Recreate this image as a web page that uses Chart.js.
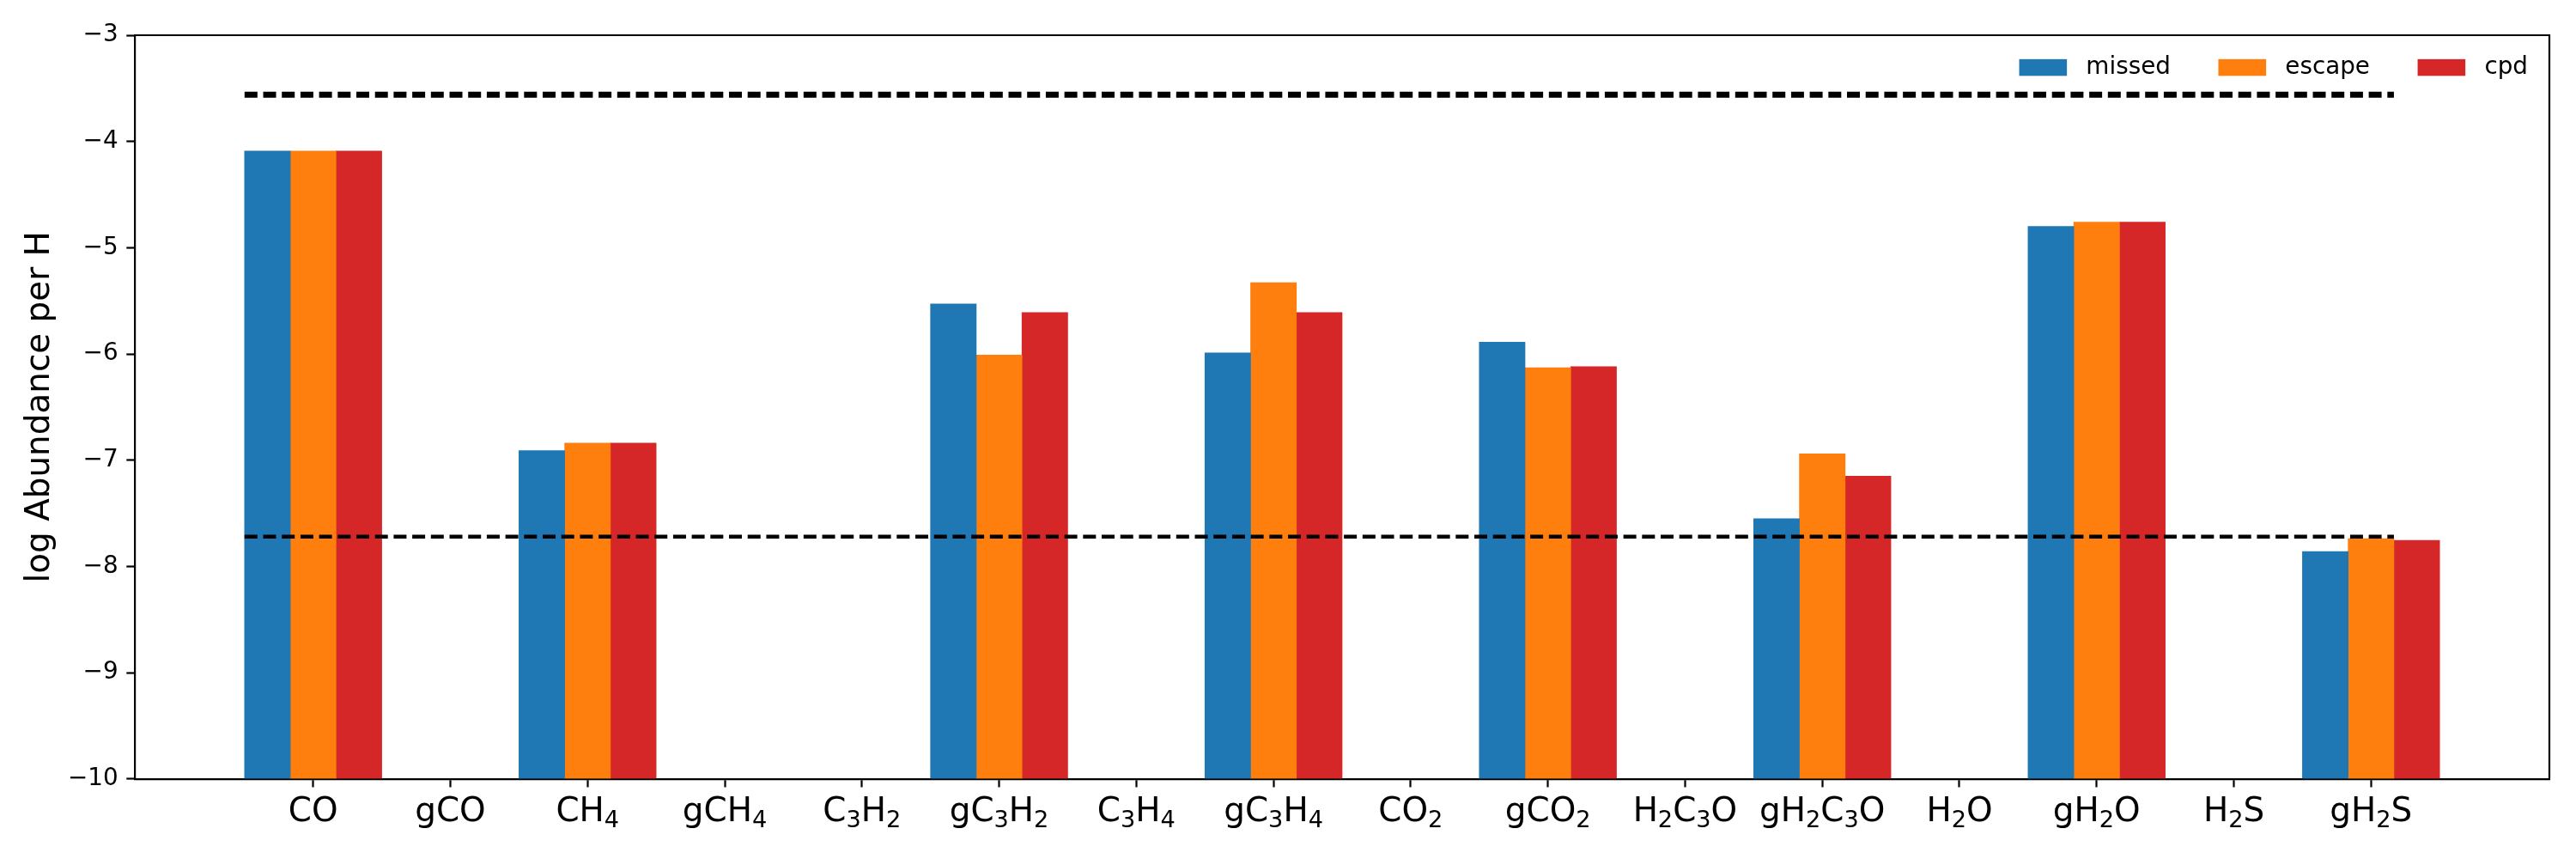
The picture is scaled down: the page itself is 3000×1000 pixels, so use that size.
<!DOCTYPE html>
<html>
<head>
<meta charset="utf-8">
<script src="https://cdn.jsdelivr.net/npm/chart.js"></script>
<style>
  body { margin: 0; background: #fff; }
  #wrap { width: 3000px; height: 1000px; }
</style>
</head>
<body>
<div id="wrap"><canvas id="chart" width="3000" height="1000"></canvas></div>
<script>
// species on the x axis (digits are drawn as subscripts)
var species = ['CO', 'gCO', 'CH4', 'gCH4', 'C3H2', 'gC3H2', 'C3H4', 'gC3H4',
               'CO2', 'gCO2', 'H2C3O', 'gH2C3O', 'H2O', 'gH2O', 'H2S', 'gH2S'];

// log abundance per H, null = nothing drawn
var missed = [-4.09, null, -6.91, null, null, -5.53, null, -5.99,
              null, -5.89, null, -7.55, null, -4.80, null, -7.86];
var escape = [-4.09, null, -6.84, null, null, -6.01, null, -5.33,
              null, -6.13, null, -6.94, null, -4.76, null, -7.74];
var cpd    = [-4.09, null, -6.84, null, null, -5.61, null, -5.61,
              null, -6.12, null, -7.15, null, -4.76, null, -7.755];

// dashed reference levels and the x range they cover
var refLevels = [-3.56, -7.72];
var refSpan = [-0.5, 15.1667];

var yTicks = [-10, -9, -8, -7, -6, -5, -4, -3];

function toPoints(vals) {
	return vals.map(function (v, i) { return { x: i, y: v }; });
}

function barSet(label, vals, color) {
	return {
		type: 'bar', label: label, data: toPoints(vals), backgroundColor: color,
		base: -10, barPercentage: 1.0, categoryPercentage: 1.0, borderWidth: 0, order: 1
	};
}

function refLine(level, width) {
	return {
		type: 'line', label: '', data: refSpan.map(function (x) { return { x: x, y: level }; }),
		borderColor: '#000', borderWidth: width, borderDash: [15, 6.7], pointRadius: 0,
		fill: false, order: 0, isRef: true
	};
}

var FONT = 'DejaVu Sans';

// frame, x labels with subscripts, legend inside the axes
var extras = {
	id: 'extras',
	afterDraw: function (chart) {
		var ctx = chart.ctx, a = chart.chartArea, xs = chart.scales.x;
		ctx.save();
		ctx.strokeStyle = '#000';
		ctx.lineWidth = 2.2;
		ctx.beginPath();
		ctx.moveTo(a.left, a.top); ctx.lineTo(a.right, a.top); ctx.lineTo(a.right, a.bottom);
		ctx.stroke();

		// tick labels
		var big = 38.9, small = 27.2, drop = 7;
		ctx.fillStyle = '#000';
		ctx.textBaseline = 'alphabetic';
		ctx.textAlign = 'left';
		species.forEach(function (name, i) {
			var parts = name.split('').map(function (c) {
				var sub = /[0-9]/.test(c);
				ctx.font = (sub ? small : big) + 'px "' + FONT + '"';
				return { c: c, sub: sub, w: ctx.measureText(c).width };
			});
			var total = parts.reduce(function (s, p) { return s + p.w; }, 0);
			var x = xs.getPixelForValue(i) - total / 2;
			var base = a.bottom + 49;
			parts.forEach(function (p) {
				ctx.font = (p.sub ? small : big) + 'px "' + FONT + '"';
				ctx.fillText(p.c, x, base + (p.sub ? drop : 0));
				x += p.w;
			});
		});

		// legend
		var em = 27.8;
		var items = chart.data.datasets.filter(function (d) { return !d.isRef; });
		ctx.font = em + 'px "' + FONT + '"';
		var widths = items.map(function (d) { return ctx.measureText(d.label).width; });
		var total = 0;
		items.forEach(function (d, i) { total += 2 * em + 0.8 * em + widths[i]; });
		total += 2 * em * (items.length - 1);
		var lx = a.right - 0.9 * em - total;
		var cy = a.top + 37.6;
		ctx.textBaseline = 'middle';
		items.forEach(function (d, i) {
			ctx.fillStyle = d.backgroundColor;
			ctx.fillRect(lx, cy - 0.35 * em, 2 * em, 0.7 * em);
			ctx.fillStyle = '#000';
			ctx.fillText(d.label, lx + 2.8 * em, cy);
			lx += 2.8 * em + widths[i] + 2 * em;
		});
		ctx.restore();
	}
};

var ctx = document.getElementById('chart');
var myChart = new Chart(ctx, {
	data: {
		datasets: [
			refLine(refLevels[0], 7),
			refLine(refLevels[1], 4.7),
			barSet('missed', missed, '#1f77b4'),
			barSet('escape', escape, '#ff7f0e'),
			barSet('cpd', cpd, '#d62728')
		]
	},
	options: {
		responsive: false,
		animation: false,
		devicePixelRatio: 1,
		layout: { padding: { top: 41, right: 31, bottom: 0, left: 0 } },
		plugins: { legend: { display: false }, tooltip: { enabled: false } },
		scales: {
			x: {
				type: 'linear', min: -1.3, max: 16.3, offset: false,
				afterBuildTicks: function (axis) {
					axis.ticks = species.map(function (s, i) { return { value: i }; });
				},
				afterFit: function (scale) { scale.height = 93.3; },
				ticks: { callback: function () { return ''; }, autoSkip: false, maxRotation: 0 },
				grid: { offset: false, drawOnChartArea: false, drawTicks: true, tickLength: 9.7, tickWidth: 2.2, tickColor: '#000' },
				border: { display: true, color: '#000', width: 2.2 }
			},
			y: {
				type: 'linear', min: -10, max: -3,
				afterBuildTicks: function (axis) {
					axis.ticks = yTicks.map(function (v) { return { value: v }; });
				},
				afterFit: function (scale) { scale.width = 157; },
				ticks: {
					color: '#000', padding: 9.7,
					font: { family: FONT, size: 27.8 },
					callback: function (v) { return (v < 0 ? '\u2212' : '') + Math.abs(v); }
				},
				grid: { drawOnChartArea: false, drawTicks: true, tickLength: 9.7, tickWidth: 2.2, tickColor: '#000' },
				border: { display: true, color: '#000', width: 2.2 },
				title: {
					display: true, text: 'log Abundance per H', color: '#000',
					font: { family: FONT, size: 38.9 }, padding: { top: 24, bottom: 0 }
				}
			}
		}
	},
	plugins: [extras]
});
</script>
</body>
</html>
